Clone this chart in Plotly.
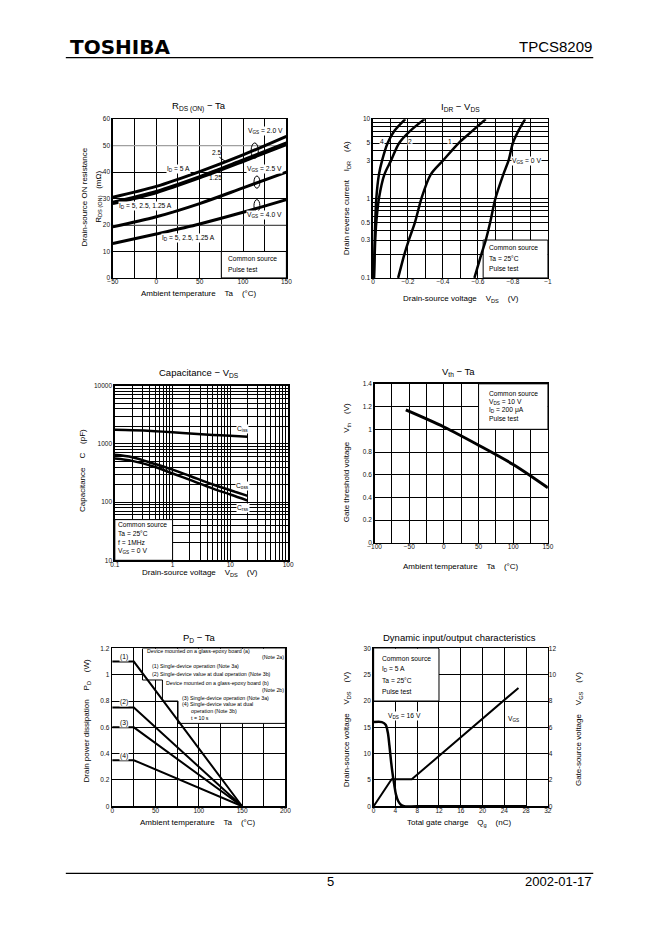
import math
import plotly.graph_objects as go

W, H = 662, 936
FONT = "Liberation Sans, Arial, Helvetica, sans-serif"
S = "\u00a0"

# ---------------- data ----------------
# Chart 1: RDS(ON) - Ta
rds_ta = [-50, 0, 50, 100, 150]
rds_vgs2_id5 = [30.5, 34.6, 40.2, 46.5, 53.5]
rds_vgs2_id2p5 = [28.6, 32.7, 38.3, 44.6, 51.0]
rds_vgs2_id1p25 = [28.1, 32.2, 37.8, 44.0, 50.4]
rds_vgs2p5 = [19.3, 23.1, 28.1, 34.0, 40.0]
rds_vgs4 = [13.0, 16.6, 20.4, 24.8, 29.6]
rds_x_ticks = [-50, 0, 50, 100, 150]
rds_x_labels = ["\u221250", "0", "50", "100", "150"]
rds_y_ticks = [0, 10, 20, 30, 40, 50, 60]

# Chart 2: IDR - VDS
idr_current = [0.1, 0.2, 0.3, 0.5, 1, 2, 3, 5, 7, 10]
idr_vds_vgs4 = [-0.005, -0.008, -0.010, -0.013, -0.019, -0.034, -0.052, -0.084, -0.12, -0.185]
idr_vds_vgs2 = [-0.006, -0.010, -0.013, -0.019, -0.034, -0.065, -0.103, -0.15, -0.21, -0.295]
idr_vds_vgs1 = [-0.144, -0.18, -0.205, -0.24, -0.277, -0.33, -0.40, -0.49, -0.565, -0.645]
idr_vds_vgs0 = [-0.58, -0.62, -0.645, -0.67, -0.70, -0.745, -0.775, -0.80, -0.83, -0.87]
idr_x_ticks = [0, -0.2, -0.4, -0.6, -0.8, -1]
idr_x_labels = ["0", "\u22120.2", "\u22120.4", "\u22120.6", "\u22120.8", "\u22121"]
idr_y_ticks = [0.1, 0.3, 0.5, 1, 3, 5, 10]
idr_y_labels = ["0.1", "0.3", "0.5", "1", "3", "5", "10"]

# Chart 3: Capacitance - VDS
cap_vds = [0.1, 0.2, 0.5, 1, 2, 5, 10, 20]
cap_ciss = [1750, 1720, 1650, 1580, 1500, 1420, 1380, 1330]
cap_coss = [650, 590, 450, 360, 280, 200, 160, 128]
cap_crss = [560, 510, 400, 310, 240, 170, 135, 106]
cap_x_ticks = [0.1, 1, 10, 100]
cap_x_labels = ["0.1", "1", "10", "100"]
cap_y_ticks = [10, 100, 1000, 10000]
cap_y_labels = ["10", "100", "1000", "10000"]

# Chart 4: Vth - Ta
vth_ta = [-55, 0, 50, 100, 150]
vth_v = [1.17, 1.02, 0.86, 0.69, 0.485]
vth_x_ticks = [-100, -50, 0, 50, 100, 150]
vth_x_labels = ["\u2212100", "\u221250", "0", "50", "100", "150"]
vth_y_ticks = [0, 0.2, 0.4, 0.6, 0.8, 1.0, 1.2, 1.4]
vth_y_labels = ["0", "0.2", "0.4", "0.6", "0.8", "1", "1.2", "1.4"]

# Chart 5: PD - Ta
pd_ta = [0, 25, 150]
pd_1 = [1.1, 1.1, 0]
pd_2 = [0.75, 0.75, 0]
pd_3 = [0.6, 0.6, 0]
pd_4 = [0.35, 0.35, 0]
pd_x_ticks = [0, 50, 100, 150, 200]
pd_y_ticks = [0, 0.2, 0.4, 0.6, 0.8, 1.0, 1.2]
pd_y_labels = ["0", "0.2", "0.4", "0.6", "0.8", "1", "1.2"]

# Chart 6: Dynamic input/output characteristics
dyn_qg_vds = [0, 1.5, 2.2, 2.6, 2.9, 3.2, 3.5, 3.8, 4.1, 4.5, 5.0, 5.6, 8, 28]
dyn_vds = [16, 16, 15.5, 14, 11.5, 8.5, 6, 4, 2.2, 1.0, 0.3, 0, 0, 0]
dyn_qg_vgs = [0, 3.3, 7, 26.6]
dyn_vgs = [0, 2.05, 2.05, 9.0]
dyn_x_ticks = [0, 4, 8, 12, 16, 20, 24, 28, 32]
dyn_y_ticks = [0, 5, 10, 15, 20, 25, 30]
dyn_y2_ticks = [0, 2, 4, 6, 8, 10, 12]

# ---------------- layout helpers ----------------
def px(x):
    return x / W


def py(y):
    return 1 - y / H


TICKFONT = dict(family=FONT, size=6.5, color="#111")


def axis(dom, rng, tickvals, ticktext, anchor, typ="linear", minor=None, xax=False, **kw):
    d = dict(domain=dom, range=rng, type=typ, tickmode="array", tickvals=tickvals,
             ticktext=ticktext, showgrid=True, gridcolor="black", gridwidth=1,
             zeroline=False, showline=True, linecolor="black", linewidth=1.5,
             mirror=True, ticks="", tickfont=TICKFONT, anchor=anchor, fixedrange=True)
    if minor is not None:
        d["minor"] = dict(dtick=minor, showgrid=True, gridcolor="black", gridwidth=1, ticks="")
        if typ == "linear":
            d["minor"]["tick0"] = 0
    if xax:
        d["ticklabelstandoff"] = -3
    d.update(kw)
    return d


boxes = {
    1: ((108, 285), (116, 276)),
    2: ((373.3, 551.7), (116, 276)),
    3: ((110, 286.7), (384.5, 560.5)),
    4: ((375, 551.7), (382.7, 543)),
    5: ((107.3, 284), (649.3, 808.3)),
    6: ((374, 551.7), (649.3, 808.3)),
}


def xdom(i):
    a, b = boxes[i][0]
    return [px(a), px(b)]


def ydom(i):
    a, b = boxes[i][1]
    return [py(b), py(a)]


def lbl(v):
    return [str(t) for t in v]


layout = dict(
    width=W, height=H, margin=dict(l=0, r=0, t=0, b=0),
    paper_bgcolor="white", plot_bgcolor="white", showlegend=False,
    font=dict(family=FONT, color="black"),
    xaxis=axis(xdom(1), [-50, 150], rds_x_ticks, rds_x_labels, "y", minor=25, xax=True),
    yaxis=axis(ydom(1), [0, 60], rds_y_ticks, lbl(rds_y_ticks), "x"),
    xaxis2=axis(xdom(2), [0, -1], idr_x_ticks, idr_x_labels, "y2", minor=0.1, xax=True),
    yaxis2=axis(ydom(2), [-1, 1], idr_y_ticks, idr_y_labels, "x2", typ="log", minor="D1"),
    xaxis3=axis(xdom(3), [-1, 2], cap_x_ticks, cap_x_labels, "y3", typ="log", minor="D1", xax=True),
    yaxis3=axis(ydom(3), [1, 4], cap_y_ticks, cap_y_labels, "x3", typ="log", minor="D1"),
    xaxis4=axis(xdom(4), [-100, 150], vth_x_ticks, vth_x_labels, "y4", minor=25, xax=True),
    yaxis4=axis(ydom(4), [0, 1.4], vth_y_ticks, vth_y_labels, "x4"),
    xaxis5=axis(xdom(5), [0, 200], pd_x_ticks, lbl(pd_x_ticks), "y5", minor=25, xax=True),
    yaxis5=axis(ydom(5), [0, 1.2], pd_y_ticks, pd_y_labels, "x5"),
    xaxis6=axis(xdom(6), [0, 32], dyn_x_ticks, lbl(dyn_x_ticks), "y6", xax=True),
    yaxis6=axis(ydom(6), [0, 30], dyn_y_ticks, lbl(dyn_y_ticks), "x6"),
    yaxis7=dict(domain=ydom(6), range=[0, 12], tickmode="array", tickvals=dyn_y2_ticks,
                ticktext=lbl(dyn_y2_ticks), overlaying="y6", side="right", anchor="x6",
                showgrid=False, zeroline=False, showline=False, ticks="",
                tickfont=TICKFONT, fixedrange=True),
)

fig = go.Figure()


def line(x, y, ax, w=2.5, spline=True, yax=None):
    fig.add_trace(go.Scatter(
        x=x, y=y, mode="lines", xaxis="x" + ax, yaxis=yax or ("y" + ax),
        line=dict(color="black", width=w, shape="spline" if spline else "linear", smoothing=0.9),
        hoverinfo="skip"))


for ys in (rds_vgs2_id5, rds_vgs2_id2p5, rds_vgs2_id1p25, rds_vgs2p5, rds_vgs4):
    line(rds_ta, ys, "", w=3)
for xs in (idr_vds_vgs4, idr_vds_vgs2, idr_vds_vgs1, idr_vds_vgs0):
    line(xs, idr_current, "2", w=2.5)
for ys in (cap_ciss, cap_coss, cap_crss):
    line(cap_vds, ys, "3", w=2.5)
line(vth_ta, vth_v, "4", w=3)
for ys in (pd_1, pd_2, pd_3, pd_4):
    line(pd_ta, ys, "5", w=2, spline=False)
line(dyn_qg_vds, dyn_vds, "6", w=2.5)
line(dyn_qg_vgs, dyn_vgs, "6", w=2, spline=False, yax="y7")

# ---------------- shapes ----------------
shapes = []


def wbox(ax, x0, x1, y0, y1):
    shapes.append(dict(type="rect", xref="x" + ax, yref="y" + ax, x0=x0, x1=x1, y0=y0, y1=y1,
                       fillcolor="white", line=dict(color="black", width=1), layer="between"))


wbox("", 75, 150, 0, 10)
wbox("2", -0.63, -1, 0.1, 0.3)
wbox("3", 0.1, 1, 10, 50)
wbox("4", 50, 150, 1.0, 1.4)
wbox("6", 0, 12, 20, 30)
shapes.append(dict(type="path", xref="x5", yref="y5",
                   path="M 35,1.2 L 35,0.96 L 58,0.96 L 58,0.8 L 76,0.8 L 76,0.63 L 200,0.63 L 200,1.2 Z",
                   fillcolor="white", line=dict(color="black", width=1), layer="between"))
for gy in (20, 50):
    shapes.append(dict(type="line", xref="x", yref="y", x0=-50, x1=150, y0=gy, y1=gy,
                       line=dict(color="#a0a0a0", width=1.2), layer="between"))
for cx, cy, w, h in ((113.5, 48.1, 8.3, 5.8), (116, 36.2, 6.8, 4.6), (116, 27.3, 6.8, 4.6)):
    shapes.append(dict(type="circle", xref="x", yref="y", x0=cx - w / 2, x1=cx + w / 2,
                       y0=cy - h / 2, y1=cy + h / 2, line=dict(color="black", width=1)))
shapes.append(dict(type="line", xref="x", yref="y", x0=72.8, y0=45.6, x1=80.3, y1=43.9,
                   line=dict(color="black", width=1)))
shapes.append(dict(type="line", xref="paper", yref="paper", x0=px(60), x1=px(598), y0=py(54), y1=py(54),
                   line=dict(color="black", width=1.3)))
shapes.append(dict(type="line", xref="paper", yref="paper", x0=px(60), x1=px(598), y0=py(876), y1=py(876),
                   line=dict(color="black", width=1.3)))

# ---------------- annotations ----------------
anns = []


def note(text, x, y, ax, size=6.7, anchor="center", bg=None):
    d = dict(text=text, x=x, y=y, xref="x" + ax, yref="y" + ax, showarrow=False,
             xanchor=anchor, yanchor="middle", font=dict(family=FONT, size=size, color="black"),
             borderpad=0)
    if bg:
        d["bgcolor"] = bg
    anns.append(d)


def ptext(text, xp, yp, size=8, anchor="center", angle=0, family=FONT):
    anns.append(dict(text=text, x=px(xp), y=py(yp), xref="paper", yref="paper", showarrow=False,
                     xanchor=anchor, yanchor="middle", textangle=angle, borderpad=0,
                     font=dict(family=family, size=size, color="black")))


L = math.log10

# chart 1
note("V<sub>GS</sub> = 2.0 V", 125.7, 55.4, "", bg="white")
note("2.5", 69.8, 47.3, "")
note("I<sub>D</sub> = 5 A", 25.7, 41.3, "", bg="white")
note("1.25", 68.2, 37.9, "")
note("V<sub>GS</sub> = 2.5 V", 124.8, 41, "", bg="white")
note("I<sub>D</sub> = 5, 2.5, 1.25 A", -12, 27, "", bg="white")
note("V<sub>GS</sub> = 4.0 V", 124.8, 23.9, "", bg="white")
note("I<sub>D</sub> = 5, 2.5, 1.25 A", 37, 15, "", bg="white")
note("Common source", 81.4, 7.25, "", anchor="left")
note("Pulse test", 81.4, 3.1, "", anchor="left")
# chart 2
note("4", -0.05, L(5.17), "2", bg="white")
note("2", -0.21, L(5.17), "2", bg="white")
note("1", -0.44, L(5.17), "2", bg="white")
note("V<sub>GS</sub> = 0 V", -0.878, L(2.94), "2", bg="white")
note("Common source", -0.66, L(0.239), "2", anchor="left")
note("Ta = 25°C", -0.66, L(0.174), "2", anchor="left")
note("Pulse test", -0.66, L(0.13), "2", anchor="left")
# chart 3
note("C<sub>iss</sub>", L(16), L(1800), "3", bg="white")
note("C<sub>oss</sub>", L(16.5), L(187), "3", bg="white")
note("C<sub>rss</sub>", L(16.5), L(79), "3", bg="white")
note("Common source", L(0.107), 1.607, "3", anchor="left")
note("Ta = 25°C", L(0.107), 1.453, "3", anchor="left")
note("f = 1MHz", L(0.107), 1.305, "3", anchor="left")
note("V<sub>GS</sub> = 0 V", L(0.107), 1.152, "3", anchor="left")
# chart 4
note("Common source", 63.7, 1.316, "4", anchor="left")
note("V<sub>DS</sub> = 10 V", 63.7, 1.243, "4", anchor="left")
note("I<sub>D</sub> = 200 μA", 63.7, 1.17, "4", anchor="left")
note("Pulse test", 63.7, 1.098, "4", anchor="left")
# chart 5
note("(1)", 13.6, 1.135, "5", bg="white")
note("(2)", 13.6, 0.795, "5", bg="white")
note("(3)", 13.6, 0.636, "5", bg="white")
note("(4)", 13.6, 0.385, "5", bg="white")
FS5 = 5.3
note("Device mounted on a glass-epoxy board (a)", 39, 1.177, "5", anchor="left", size=FS5)
note("(Note 2a)", 199, 1.132, "5", anchor="right", size=FS5)
note("(1) Single-device operation (Note 3a)", 45, 1.064, "5", anchor="left", size=FS5)
note("(2) Single-device value at dual operation (Note 3b)", 45, 1.006, "5", anchor="left", size=FS5)
note("Device mounted on a glass-epoxy board (b)", 61.5, 0.936, "5", anchor="left", size=FS5)
note("(Note 2b)", 199, 0.885, "5", anchor="right", size=FS5)
note("(3) Single-device operation (Note 3a)", 79.7, 0.825, "5", anchor="left", size=FS5)
note("(4) Single-device value at dual", 79.7, 0.774, "5", anchor="left", size=FS5)
note("operation (Note 3b)", 89.8, 0.724, "5", anchor="left", size=FS5)
note("t = 10 s", 89.8, 0.674, "5", anchor="left", size=FS5)
# chart 6
note("Common source", 1.38, 28, "6", anchor="left")
note("I<sub>D</sub> = 5 A", 1.38, 26, "6", anchor="left")
note("Ta = 25°C", 1.38, 23.9, "6", anchor="left")
note("Pulse test", 1.38, 21.9, "6", anchor="left")
note("V<sub>DS</sub> = 16 V", 5.6, 17.1, "6", bg="white")
note("V<sub>GS</sub>", 25.7, 16.5, "6", bg="white")

# chart titles
ptext("R<sub>DS (ON)</sub> \u2212 Ta", 196, 103.5, size=9.5)
ptext("I<sub>DR</sub> \u2212 V<sub>DS</sub>", 463, 104, size=9.5)
ptext("Capacitance \u2212 V<sub>DS</sub>", 196, 371.5, size=9.5)
ptext("V<sub>th</sub> \u2212 Ta", 461, 371, size=9.5)
ptext("P<sub>D</sub> \u2212 Ta", 196, 638.5, size=9.5)
ptext("Dynamic input/output characteristics", 462, 638, size=9.5)

# axis titles
sp = S * 4
ptext("Ambient temperature" + sp + "Ta" + sp + "(°C)", 196, 291.5)
ptext("Drain-source voltage" + sp + "V<sub>DS</sub>" + sp + "(V)", 463, 297)
ptext("Drain-source voltage" + sp + "V<sub>DS</sub>" + sp + "(V)", 197, 573)
ptext("Ambient temperature" + sp + "Ta" + sp + "(°C)", 463, 566.5)
ptext("Ambient temperature" + sp + "Ta" + sp + "(°C)", 195, 825)
ptext("Total gate charge" + sp + "Q<sub>g</sub>" + sp + "(nC)", 461, 825)

ptext("Drain-source ON resistance", 79.5, 194, angle=-90)
ptext("R<sub>DS (ON)</sub>" + S * 3 + "(mΩ)", 93, 194, angle=-90)
ptext("Drain reverse current" + sp + "I<sub>DR</sub>" + sp + "(A)", 346.5, 196, angle=-90)
ptext("Capacitance" + sp + "C" + sp + "(pF)", 77, 470, angle=-90)
ptext("Gate threshold voltage" + sp + "V<sub>th</sub>" + sp + "(V)", 346.5, 462, angle=-90)
ptext("Drain power dissipation" + sp + "P<sub>D</sub>" + sp + "(W)", 81.5, 722, angle=-90)
ptext("Drain-source voltage" + sp + "V<sub>DS</sub>" + sp + "(V)", 346.5, 731, angle=-90)
ptext("Gate-source voltage" + sp + "V<sub>GS</sub>" + sp + "(V)", 583, 731, angle=-90)

# header / footer
ptext("<b>TOSHIBA</b>", 63, 43, size=20, anchor="left", family="DejaVu Sans, sans-serif")
ptext("TPCS8209", 598, 43, size=15, anchor="right")
ptext("5", 330, 884, size=13)
ptext("2002-01-17", 598, 884, size=13, anchor="right")

layout["shapes"] = shapes
layout["annotations"] = anns
fig.update_layout(**layout)
fig.write_html("out.html",
               config={"displayModeBar": False, "staticPlot": True},
               post_script="document.body.style.margin='0px';document.body.style.overflow='hidden';")
